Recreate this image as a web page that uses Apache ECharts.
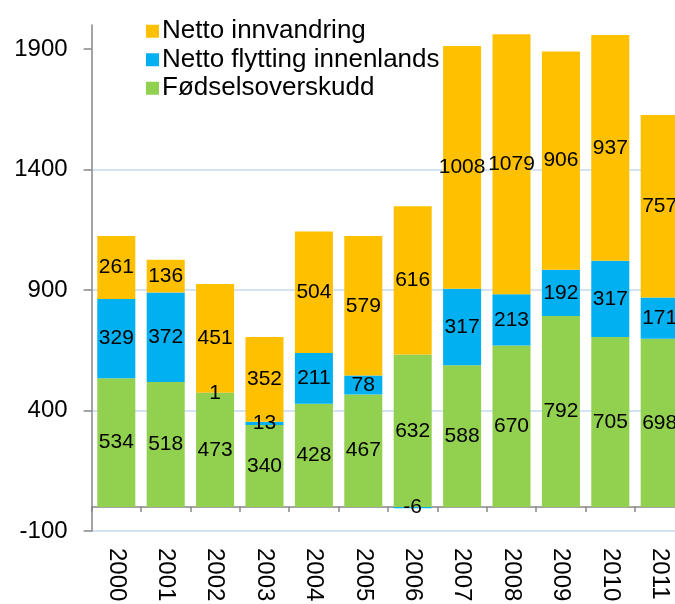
<!DOCTYPE html>
<html>
<head>
<meta charset="utf-8">
<script src="https://cdn.jsdelivr.net/npm/echarts@6/dist/echarts.min.js"></script>
<style>
  html, body { margin: 0; padding: 0; background: #fff; }
  #chart { width: 675px; height: 604px; }
</style>
</head>
<body>
<div id="chart"></div>
<script>
const years = ['2000', '2001', '2002', '2003', '2004', '2005', '2006', '2007', '2008', '2009', '2010', '2011']
const fodselsoverskudd = [534, 518, 473, 340, 428, 467, 632, 588, 670, 792, 705, 698]
const flyttingInnenlands = [329, 372, 1, 13, 211, 78, -6, 317, 213, 192, 317, 171]
const nettoInnvandring = [261, 136, 451, 352, 504, 579, 616, 1008, 1079, 906, 937, 757]
const yTicks = [-100, 400, 900, 1400, 1900]

const font = '"Liberation Sans", Arial, sans-serif'

const chart = echarts.init(document.getElementById('chart'))

// felles oppsett for etikettene inne i stolpene
const barLabel = {
    show: true,
    position: 'inside',
    color: '#000',
    fontFamily: font,
    fontSize: 21
}

chart.setOption({
    animation: false,
    textStyle: { fontFamily: font },
    legend: {
        orient: 'vertical',
        left: 141,
        top: 12,
        itemWidth: 13,
        itemHeight: 13,
        itemGap: 0,
        icon: 'rect',
        data: ['Netto innvandring', 'Netto flytting innenlands', 'Fødselsoverskudd'],
        textStyle: {
            color: '#000',
            fontFamily: font,
            fontSize: 26,
            lineHeight: 28.5,
            padding: [0, 0, 0, -2]
        }
    },
    grid: {
        left: 91.6,
        right: -9.4,
        top: 25,
        bottom: 73,
        containLabel: false,
        outerBoundsMode: 'none'
    },
    xAxis: {
        type: 'category',
        data: years,
        axisLine: {
            onZero: true,
            lineStyle: { color: '#868686', width: 1.5 }
        },
        axisTick: {
            show: true,
            length: 5,
            lineStyle: { color: '#868686', width: 1.5 }
        },
        axisLabel: {
            rotate: -90,
            margin: 17,
            color: '#000',
            fontFamily: font,
            fontSize: 24
        },
        splitLine: { show: false }
    },
    yAxis: {
        type: 'value',
        min: -100,
        max: 2000,
        interval: 500,
        axisLine: {
            show: true,
            lineStyle: { color: '#868686', width: 1.5 }
        },
        axisTick: {
            show: true,
            length: 8,
            customValues: yTicks,
            lineStyle: { color: '#868686', width: 1.5 }
        },
        axisLabel: {
            customValues: yTicks,
            formatter: v => String(v),
            margin: 24,
            color: '#000',
            fontFamily: font,
            fontSize: 24
        },
        splitLine: {
            show: true,
            showMaxLine: false,
            lineStyle: { color: '#C6D9F1', width: 1.5 }
        }
    },
    series: [
        {
            name: 'Fødselsoverskudd',
            type: 'bar',
            stack: 'total',
            barCategoryGap: '23%',
            itemStyle: { color: '#92D050' },
            label: barLabel,
            data: fodselsoverskudd
        },
        {
            name: 'Netto flytting innenlands',
            type: 'bar',
            stack: 'total',
            barCategoryGap: '23%',
            itemStyle: { color: '#00B0F0' },
            label: barLabel,
            data: flyttingInnenlands
        },
        {
            name: 'Netto innvandring',
            type: 'bar',
            stack: 'total',
            barCategoryGap: '23%',
            itemStyle: { color: '#FFC000' },
            label: barLabel,
            data: nettoInnvandring
        }
    ]
})

window.addEventListener('resize', () => {
    chart.resize()
})
</script>
</body>
</html>
